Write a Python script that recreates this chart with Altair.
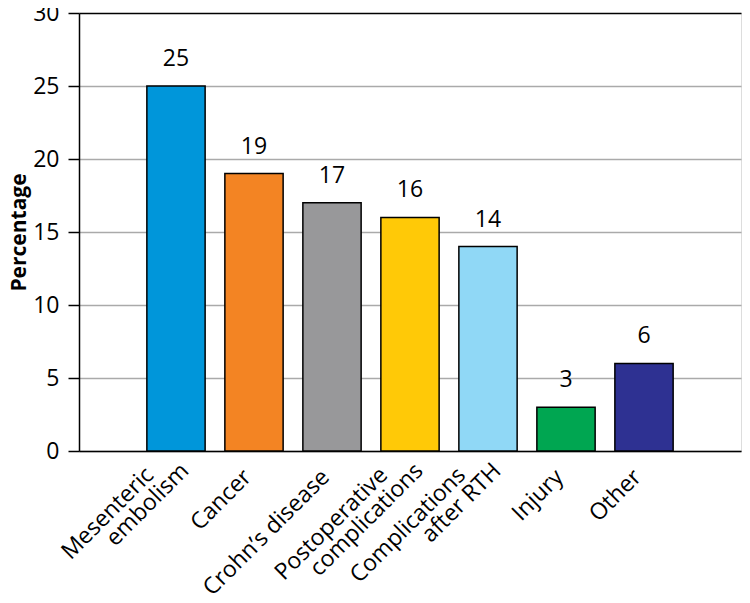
import altair as alt
import pandas as pd

categories = ["Mesenteric embolism", "Cancer", "Crohn’s disease", "Postoperative complications",
              "Complications after RTH", "Injury", "Other"]
values = [25, 19, 17, 16, 14, 3, 6]
colors = ["#0096DA", "#F38423", "#98989A", "#FFC907", "#90D8F6", "#00A651", "#2E3192"]

# tick labels, split into lines as printed in the figure
single_line = ["", "Cancer", "Crohn’s disease", "", "", "Injury", "Other"]
first_line = ["Mesenteric", "", "", "Postoperative", "Complications", "", ""]
second_line = ["embolism", "", "", "complications", "after RTH", "", ""]

df = pd.DataFrame({"cat": categories, "value": values, "color": colors,
                   "single": single_line, "l1": first_line, "l2": second_line})

FONT = "Open Sans"
LFS = 23

xscale = alt.Scale(paddingInner=0.253, paddingOuter=0.87)

x = alt.X("cat:N", sort=categories, title=None, scale=xscale,
          axis=alt.Axis(labels=False, ticks=False, domainColor="black", domainWidth=1.5, grid=False))

y = alt.Y("value:Q", title="Percentage",
          scale=alt.Scale(domain=[0, 30]),
          axis=alt.Axis(values=[0, 5, 10, 15, 20, 25, 30], labelFontSize=23, labelFont=FONT,
                        labelColor="black", tickColor="black", tickSize=11, tickWidth=1.5,
                        domainColor="black", domainWidth=1.5,
                        gridColor=alt.condition("datum.value >= 30", alt.value("black"), alt.value("#aaaaaa")),
                        gridWidth=1.5,
                        labelPadding=9, titleFontSize=21, titleFont=FONT, titleFontWeight="bold",
                        titleColor="black", titlePadding=3))

base = alt.Chart(df)

bars = base.mark_bar(stroke="black", strokeWidth=1.5).encode(
    x=x, y=y, color=alt.Color("color:N", scale=None))

values_text = base.mark_text(fontSize=23, font=FONT, color="black", baseline="alphabetic",
                             dy=-20).encode(
    x=alt.X("cat:N", sort=categories), y="value:Q", text="value:Q")

def tick_text(field, dx, dy):
    return base.mark_text(fontSize=LFS, font=FONT, color="black", angle=315, align="right",
                          baseline="top", dx=dx, dy=dy).encode(
        x=alt.X("cat:N", sort=categories), y=alt.datum(0), text=f"{field}:N")

lab_single = tick_text("single", -20.5, 0.5)
lab_l1 = tick_text("l1", -33, -15)
lab_l2 = tick_text("l2", -5, 7)

chart = (bars + values_text + lab_single + lab_l1 + lab_l2).properties(
    width=734, height=587,
    autosize=alt.AutoSizeParams(type="fit", contains="padding"),
    padding={"left": 0, "top": -6, "right": 1, "bottom": -6},
).configure_view(stroke="black", strokeWidth=1.5).configure(background="white")

chart.save("out.html", embed_options={"renderer": "svg", "actions": False})
